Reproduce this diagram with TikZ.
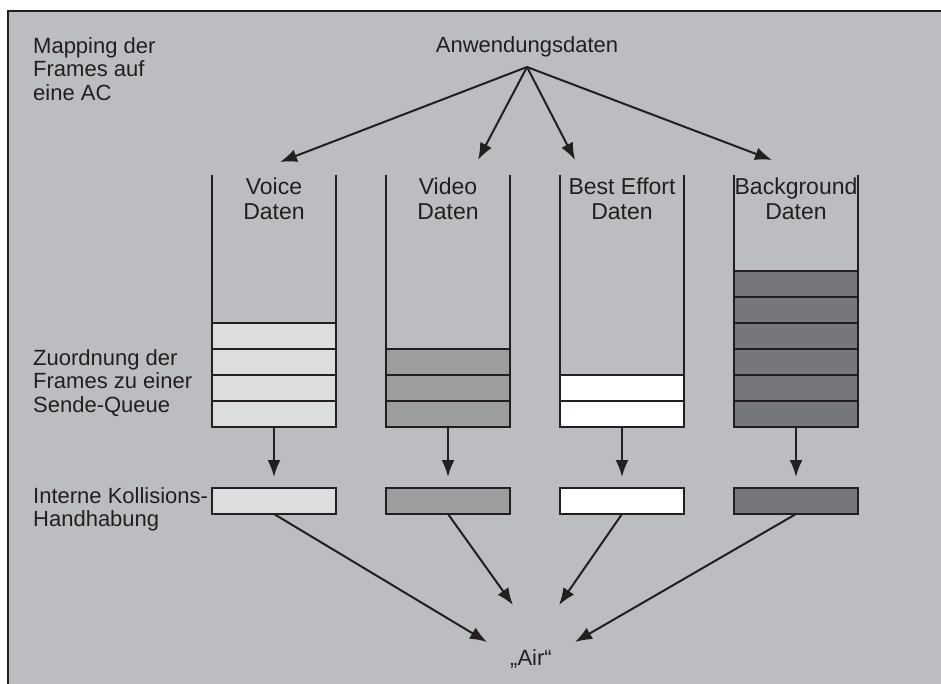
\documentclass[tikz,border=0pt]{standalone}
\usepackage{fontspec}
\setmainfont{Liberation Sans}
\usetikzlibrary{arrows.meta,positioning}
\definecolor{paper}{HTML}{BCBDC0}
\definecolor{ink}{HTML}{231F20}
\definecolor{voicecol}{HTML}{DCDDDF}
\definecolor{videocol}{HTML}{9D9EA0}
\definecolor{bgcol}{HTML}{76777A}

\begin{document}
\begin{tikzpicture}[x=1pt,y=-1pt]

	\tikzstyle{txt}=[font=\fontsize{22}{23.8}\selectfont,inner sep=0pt,align=left,text=ink]
	\tikzstyle{qlabel}=[txt,font=\fontsize{23}{25}\selectfont,align=center,anchor=north]
	\tikzstyle{cell}=[draw=ink,line width=2pt,minimum width=124pt,minimum height=26pt,inner sep=0pt,outer sep=0pt]
	\tikzstyle{wall}=[draw=ink,line width=2pt]
	\tikzstyle{arr}=[draw=ink,line width=2pt,-{Latex[length=17pt,width=13pt]}]

	\useasboundingbox (0,0) rectangle (941,684);
	\fill[white] (0,0) rectangle (941,684);
	\fill[paper] (8,11) rectangle (960,700);
	\draw[ink,line width=2.2pt] (8,700) -- (8,11) -- (960,11);

	% side texts
	\node [txt,anchor=north west] (mapping) at (33,37) {Mapping der\\Frames auf\\eine AC};
	\node [txt,anchor=north west] (assign) at (33,349) {Zuordnung der\\Frames zu einer\\Sende-Queue};
	\node [txt,anchor=north west] (intern) at (33,487) {Interne Kollisions-\\Handhabung};

	\node [txt,anchor=base] (apps) at (527,53) {Anwendungsdaten};
	\coordinate [below=14pt of apps.base] (fan);
	\node [txt,anchor=base] (air) at (531,665) {„Air“};

	% queues
	\foreach \name/\cx/\n/\col/\lbl/\inx/\iny/\outx/\outy in {
		voice/274/4/voicecol/Voice/280/162/487/642,
		video/448/3/videocol/Video/478/160/513/605,
		effort/622/2/white/Best Effort/575/160/559/605,
		backgr/796/6/bgcol/Background/772/160/575/642} {
		\coordinate (\name-tl) at ({\cx-62},175);
		\coordinate (\name-tr) at ({\cx+62},175);
		\coordinate (\name-in) at (\inx,\iny);
		\coordinate (\name-out) at (\outx,\outy);
		\node [qlabel] (\name-label) at (\cx,178) {\lbl\\Daten};
		\foreach \i in {1,...,\n}
			\node [cell,fill=\col] (\name-\i) at (\cx,{414-26*(\i-1)}) {};
		\draw [wall] (\name-tl) -- (\name-1.south west);
		\draw [wall] (\name-tr) -- (\name-1.south east);
		\node [cell,fill=\col] (\name-box) at (\cx,501) {};

		\draw [arr] (fan) -- (\name-in);
		\draw [arr,shorten >=11pt] (\name-1) -- (\name-box);
		\draw [arr] (\name-box.south) -- (\name-out);
	}
\end{tikzpicture}
\end{document}
